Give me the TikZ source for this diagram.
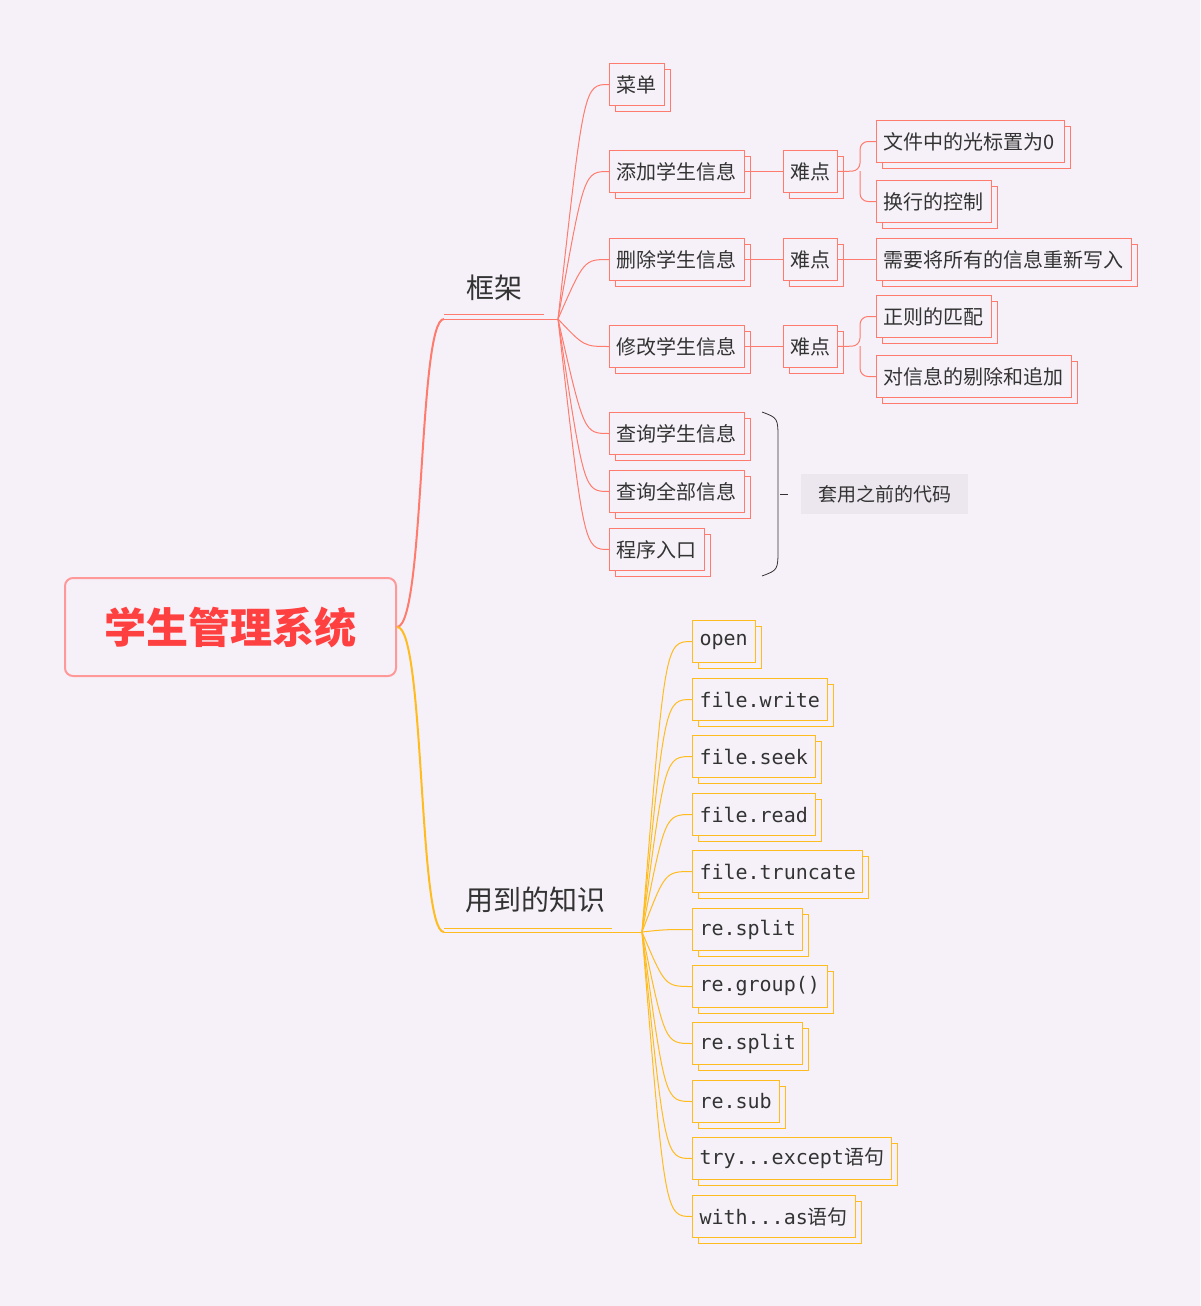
\documentclass[tikz,border=0pt]{standalone}
\usepackage{fontspec}
\setmainfont{Noto Sans CJK SC}
\newfontfamily\cjk{Noto Sans CJK SC}
\setmonofont{DejaVu Sans Mono}
\usetikzlibrary{shadows,calc}
\definecolor{bg}{HTML}{F6F1F8}
\definecolor{lred}{HTML}{FF7B6E}
\definecolor{lorg}{HTML}{FFBC1F}
\definecolor{txt}{HTML}{333333}
\begin{document}
\begin{tikzpicture}[x=1pt,y=-1pt,
 base/.style={fill=bg, line width=1pt, anchor=north west, minimum height=42pt, inner xsep=7pt, inner ysep=0pt, align=left, text=txt, font=\fontsize{20pt}{24pt}\selectfont},
 rbox/.style={base, draw=lred, copy shadow={shadow xshift=6pt, shadow yshift=-6pt, draw=lred, fill=bg, line width=1pt}},
 obox/.style={base, draw=lorg, font=\fontsize{20pt}{24pt}\selectfont\ttfamily, copy shadow={shadow xshift=6pt, shadow yshift=-6pt, draw=lorg, fill=bg, line width=1pt}},
 rl/.style={draw=lred, line width=1pt},
 ol/.style={draw=lorg, line width=1pt}]
\fill[bg] (0,0) rectangle (1200,1306);
\useasboundingbox (0,0) rectangle (1200,1306);
% root
\node[draw=red!40!white, line width=2pt, rounded corners=8pt, fill=bg, minimum width=331pt, minimum height=98pt, anchor=north west, text=red!75!white, font=\fontsize{42pt}{48pt}\selectfont\bfseries] (root) at (64,577) {学生管理系统};
% branch labels
\node[text=txt, font=\fontsize{28pt}{32pt}\selectfont] (fk) at (494,288) {框架};
\node[text=txt, font=\fontsize{28pt}{32pt}\selectfont] (zs) at (535,900) {用到的知识};
\coordinate (kjs) at (444,319); \coordinate (kj) at (558,319);
\coordinate (zss) at (444,932); \coordinate (zsm) at (626,932); \coordinate (zse) at (642,932);
\draw[rl, line width=0.6pt] (444,314) -- (544,314);
\draw[rl] (kjs) -- (kj);
\draw[ol, line width=0.6pt] (444,928) -- (612,928);
\draw[ol] (zss) -- (zse);
\draw[rl, line width=2pt] (root.east) .. controls (425,626) and (418,319) .. (kjs);
\draw[ol, line width=2pt] (root.east) .. controls (425,626) and (418,932) .. (zss);
% red boxes
\node[rbox, text width=41pt] (cd) at (609,63) {菜单};
\node[rbox, text width=121pt] (tj) at (609,150) {添加学生信息};
\node[rbox, text width=40pt] (nd1) at (783,150) {难点};
\node[rbox, text width=174pt] (wj) at (876,120) {文件中的光标置为0};
\node[rbox, text width=101pt] (hh) at (876,180) {换行的控制};
\node[rbox, text width=121pt] (sc) at (609,238) {删除学生信息};
\node[rbox, text width=40pt] (nd2) at (783,238) {难点};
\node[rbox, text width=241pt] (xy) at (876,238) {需要将所有的信息重新写入};
\node[rbox, text width=121pt] (xg) at (609,325) {修改学生信息};
\node[rbox, text width=40pt] (nd3) at (783,325) {难点};
\node[rbox, text width=101pt] (zz) at (876,295) {正则的匹配};
\node[rbox, text width=181pt] (tc) at (876,355) {对信息的剔除和追加};
\node[rbox, text width=121pt] (cx) at (609,412) {查询学生信息};
\node[rbox, text width=121pt] (qb) at (609,470) {查询全部信息};
\node[rbox, text width=81pt] (rk) at (609,528) {程序入口};
\foreach \n in {cd,tj,sc,xg,cx,qb,rk}
  \draw[rl] (kj) .. controls ($(\n.west)+(-25,0)$) .. (\n.west);
\draw[rl] (tj.east) -- (nd1.west);
\draw[rl] (sc.east) -- (nd2.west);
\draw[rl] (xg.east) -- (nd3.west);
\draw[rl] (nd2.east) -- (xy.west);
\draw[rl, rounded corners=8pt] (nd1.east) -- (860,171) |- (wj.west);
\draw[rl, rounded corners=8pt] (860,171) |- (hh.west);
\draw[rl, rounded corners=8pt] (nd3.east) -- (860,346) |- (zz.west);
\draw[rl, rounded corners=8pt] (860,346) |- (tc.west);
% brace
\coordinate (bt) at (762,412); \coordinate (bb) at (762,576); \coordinate (bm) at (788,494);
\draw[txt, line width=0.8pt] (bt) .. controls (778,418) .. (778,440) -- (778,548) .. controls (778,570) .. (bb);
\draw[txt, line width=0.8pt] (780,494) -- (bm);
\node[fill=black!4!bg, minimum width=167pt, minimum height=40pt, anchor=west, text=txt, font=\fontsize{19pt}{24pt}\selectfont] (ty) at (801,494) {套用之前的代码};
% orange boxes
\node[obox, text width=49pt] (o1) at (692,620) {open};
\node[obox, text width=121pt] (o2) at (692,678) {file.write};
\node[obox, text width=109pt] (o3) at (692,735) {file.seek};
\node[obox, text width=109pt] (o4) at (692,793) {file.read};
\node[obox, text width=156pt] (o5) at (692,850) {file.truncate};
\node[obox, text width=96pt] (o6) at (692,908) {re.split};
\node[obox, text width=121pt] (o7) at (692,965) {re.group()};
\node[obox, text width=96pt] (o8) at (692,1022) {re.split};
\node[obox, text width=73pt] (o9) at (692,1080) {re.sub};
\node[obox, text width=185pt] (o10) at (692,1137) {try...except{\cjk 语句}};
\node[obox, text width=149pt] (o11) at (692,1195) {with...as{\cjk 语句}};
\foreach \n in {o1,o2,o3,o4,o5,o6,o7,o8,o9,o10,o11}
  \draw[ol] (zse) .. controls ($(\n.west)+(-27,0)$) .. (\n.west);
\end{tikzpicture}
\end{document}
